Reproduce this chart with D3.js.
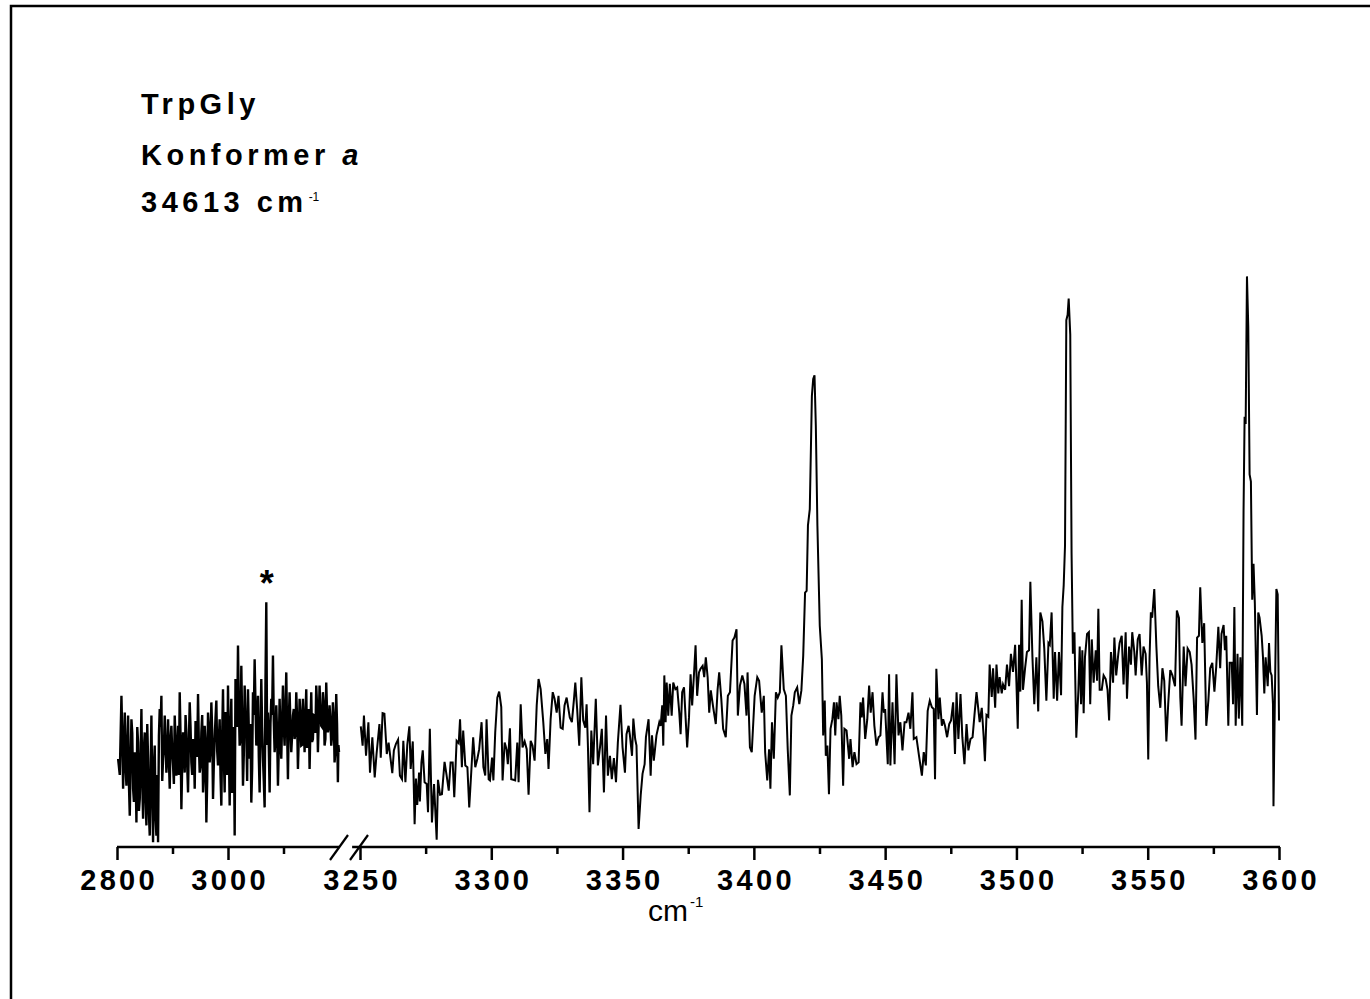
<!DOCTYPE html>
<html><head><meta charset="utf-8">
<script src="https://cdn.jsdelivr.net/npm/d3@7"></script>
<style>html,body{margin:0;padding:0;background:#fff;} svg{display:block;}</style>
</head><body>
<svg id="chart" width="1370" height="999"></svg>
<script>
// ---------- DATA ----------
// left segment, first pass of readings
const leftWave = [2802,2808,2811,2814,2817,2820,2823,2826,2829,2832,2835,2838,2841,2844,2847,2850,2853,2856,2859,2862,2865,2868,2871,2874,2877,2880,2883,2886,2889,2892,2895,2898,2901,2904,2907,2910,2913,2916,2919,2922,2925,2928,2931,2934,2937,2940,2943,2946,2949,2952,2955,2958,2961,2964,2967,2970,2973,2976,2979,2982,2985,2988,2991,2994,2997,3000,3003,3006,3009,3012,3015,3018,3021,3024,3027,3030,3033,3036,3039,3042,3045,3048,3051,3054,3057,3060,3063,3066,3069,3072,3075,3078,3081,3084,3087,3090,3093,3096,3099,3102,3105,3108,3111,3114,3117,3120,3123,3126,3129,3132,3135,3138,3141,3144,3147,3150,3153,3156,3159,3162,3165,3168,3171,3174,3177,3180,3183,3186,3189,3192,3195,3198,3200];
const leftSignal = [14.7,25.2,9.7,22.4,10.2,21.9,5.2,21.3,9.7,15.8,4.1,17.4,8.0,23.0,4.7,19.1,3.6,14.7,1.9,21.9,0.8,16.9,1.9,0.8,23.0,25.2,14.7,21.9,12.4,21.3,9.7,20.2,13.6,21.9,11.9,20.2,25.8,6.3,19.1,12.4,19.1,9.1,24.1,14.1,18.0,9.7,18.6,25.5,12.4,19.1,9.1,20.2,4.1,22.4,14.1,24.1,8.0,18.0,24.4,13.6,21.3,6.9,26.3,9.1,21.9,26.9,6.9,24.7,13.6,1.9,24.7,33.6,16.9,30.2,10.2,26.9,19.1,26.3,14.7,7.4,25.8,31.3,16.9,25.2,9.1,28.0,14.7,6.6,40.8,22.4,9.1,24.7,31.9,15.8,23.6,10.2,24.7,14.7,26.9,16.9,29.1,11.3,25.8,15.8,21.9,18.0,25.8,13.0,24.7,16.9,24.7,15.8,26.3,19.1,13.0,25.8,18.0,21.9,26.9,15.8,26.9,20.2,25.8,16.9,27.4,19.1,23.6,16.9,24.1,14.1,25.5,10.8,15.8];
// left segment, second pass of readings (points between the first pass)
const leftWave2 = [2805,2809.5,2812.5,2815.5,2818.5,2821.5,2824.5,2827.5,2830.5,2833.5,2836.5,2839.5,2842.5,2845.5,2848.5,2851.5,2854.5,2857.5,2860.5,2863.5,2866.5,2869.5,2872.5,2875.5,2878.5,2881.5,2884.5,2887.5,2890.5,2893.5,2896.5,2899.5,2902.5,2905.5,2908.5,2911.5,2914.5,2917.5,2920.5,2923.5,2926.5,2929.5,2932.5,2935.5,2938.5,2941.5,2944.5,2947.5,2950.5,2953.5,2956.5,2959.5,2962.5,2965.5,2968.5,2971.5,2974.5,2977.5,2980.5,2983.5,2986.5,2989.5,2992.5,2995.5,2998.5,3001.5,3004.5,3007.5,3010.5,3013.5,3016.5,3019.5,3022.5,3025.5,3028.5,3031.5,3034.5,3037.5,3040.5,3043.5,3046.5,3049.5,3052.5,3055.5,3058.5,3061.5,3064.5,3067.5,3070.5,3073.5,3076.5,3079.5,3082.5,3085.5,3088.5,3091.5,3094.5,3097.5,3100.5,3103.5,3106.5,3109.5,3112.5,3115.5,3118.5,3121.5,3124.5,3127.5,3130.5,3133.5,3136.5,3139.5,3142.5,3145.5,3148.5,3151.5,3154.5,3157.5,3160.5,3163.5,3166.5,3169.5,3172.5,3175.5,3178.5,3181.5,3184.5,3187.5,3190.5,3193.5,3196.5,3199];
const leftSignal2 = [12.0,18.5,16.0,13.5,17.0,10.5,14.0,19.0,7.5,12.5,20.0,6.0,15.0,11.0,16.5,8.0,20.5,5.5,12.0,9.5,
13.5,5.0,12.0,18.5,20.0,11.0,16.5,17.0,15.0,14.5,18.0,16.0,10.5,17.5,15.5,12.0,18.5,14.0,16.0,22.0,
13.5,17.5,20.0,12.0,16.5,21.0,15.0,17.0,13.5,22.0,12.0,17.5,11.0,20.0,16.5,19.5,14.0,21.5,16.0,18.0,
12.0,18.5,15.0,22.5,12.0,17.0,19.5,9.0,20.0,28.0,20.0,23.5,18.0,21.0,15.5,22.0,11.0,19.5,20.5,13.0,
22.0,24.0,20.0,15.0,19.5,20.0,11.0,27.0,17.0,16.5,20.5,22.0,21.0,18.0,19.0,16.5,18.5,21.0,20.0,23.0,
19.5,21.0,20.5,18.5,23.0,19.0,21.5,18.0,22.5,17.0,20.5,21.5,16.5,23.0,20.0,17.5,22.0,19.0,23.5,21.0,
22.5,20.0,24.0,18.0,22.5,20.0,21.0,18.5,22.0,16.0,20.5,17.0];

const rightWave = [
3250.3,3251.0,3251.5,3252.3,3253.2,3253.8,3254.7,3255.6,3256.3,3257.4,
3257.9,3258.6,3259.3,3260.2,3260.9,3261.5,3262.3,3262.9,3263.7,3264.5,
3265.2,3266.0,3266.5,3267.3,3268.0,3268.8,3269.3,3270.1,3270.8,3271.3,
3271.8,3272.5,3272.8,3273.4,3273.9,3274.6,3275.4,3275.9,3276.6,3277.4,
3278.2,3279.2,3279.7,3280.5,3281.2,3282.2,3283.0,3283.8,3284.5,3285.3,
3285.9,3286.8,3287.6,3288.1,3288.8,3289.3,3290.1,3290.9,3291.6,3292.4,
3293.1,3293.9,3294.7,3295.4,3296.3,3297.0,3297.7,3298.2,3299.0,3299.5,
3300.3,3300.8,3301.5,3302.3,3303.0,3303.8,3304.3,3305.1,3305.8,3306.3,
3307.1,3307.6,3308.4,3309.1,3309.9,3310.4,3311.2,3311.9,3312.7,3313.5,
3314.2,3315.0,3315.7,3316.5,3317.3,3318.0,3318.8,3319.8,3320.6,3321.3,
3321.8,3322.6,3323.4,3324.1,3324.9,3325.6,3326.4,3327.2,3327.9,3328.7,
3329.9,3330.7,3331.5,3332.0,3332.7,3333.5,3334.3,3335.0,3335.8,3336.3,
3336.8,3337.4,3338.1,3338.8,3339.8,3340.6,3341.4,3342.1,3342.9,3343.7,
3344.4,3345.2,3345.9,3346.7,3347.5,3348.2,3349.2,3350.0,3350.9,3351.5,
3352.3,3352.8,3353.6,3354.1,3354.8,3355.3,3356.1,3356.9,3357.6,3358.4,
3358.9,3359.9,3360.7,3361.2,3361.9,3362.9,3364.0,
3364.5,3365.1,3365.5,3365.9,3366.4,3366.8,3367.4,3368.0,3368.7,3369.3,
3370.1,3370.8,3371.6,3372.1,3372.7,3373.4,3374.0,3374.6,3375.3,3375.9,
3376.5,3377.2,3377.8,3378.4,3379.1,3379.7,3380.5,3381.1,3381.7,3382.4,
3383.0,3383.6,3384.5,3385.5,3386.2,3386.8,3387.6,3388.3,3389.3,3390.1,
3390.9,3391.9,3392.6,3393.4,3393.9,3394.7,3395.6,3396.4,3397.2,3397.6,
3398.5,3399.2,3400.3,3401.3,3402.0,3403.0,3403.8,3404.3,3405.1,3405.8,
3406.3,3406.9,3407.6,3408.4,3409.1,3409.9,3410.5,3411.4,3412.2,3412.9,
3413.7,3414.3,3415.0,3415.6,3416.5,3417.3,3418.1,3418.8,3419.5,3420.1,
3420.6,3421.3,3422.1,3422.6,3423.1,3423.6,3424.2,3425.1,3425.9,3426.4,
3427.0,3427.4,3428.0,3428.6,3429.2,3429.9,3430.5,3431.0,3431.5,3432.2,
3432.7,3433.3,3434.0,3434.5,3435.3,3436.3,3436.8,3437.6,3438.3,3439.1,
3439.9,3440.6,3441.1,3441.6,3442.4,3443.2,3443.9,3444.5,3445.2,3445.9,
3446.7,3447.5,3448.2,3449.0,3449.5,3450.0,3451.0,3451.5,3452.0,3452.8,
3453.6,3454.3,3455.1,3455.8,3456.6,3457.4,3458.1,3458.9,3459.6,3460.4,
3460.9,3461.9,3462.9,3464.0,3464.7,3465.5,3466.2,3467.0,3467.8,3468.5,
3469.0,3469.5,3470.3,3470.8,3471.6,3472.1,3472.8,3473.6,3474.4,3475.1,
3475.9,3476.6,3477.2,3477.9,3478.7,3479.4,3480.2,3481.0,3481.7,3482.5,
3483.3,3484.0,3484.8,3486.0,
3486.8,3487.5,3488.0,3488.6,3489.3,3489.8,3490.6,3491.1,3491.9,3492.4,
3493.1,3493.6,3494.4,3494.9,3495.7,3496.4,3497.2,3497.9,3498.7,3499.5,
3500.0,3500.5,3501.0,3501.5,3502.0,3502.5,3503.3,3504.0,3504.8,3505.3,
3506.1,3506.8,3507.6,3508.3,3509.1,3509.9,3510.6,3511.4,3512.2,3512.7,
3513.4,3514.2,3514.7,3515.5,3516.2,3517.0,3517.5,3518.0,3518.5,3519.0,
3519.5,3519.9,3520.5,3521.0,3521.5,3522.1,3522.8,3523.6,3524.1,3524.6,
3525.1,3525.6,3526.1,3526.9,3527.6,3528.1,3528.7,3529.4,3530.2,3530.7,
3531.2,3531.7,3532.5,3533.2,3534.0,3534.7,3535.3,3536.0,3536.8,3537.3,
3538.0,3538.8,3539.3,3540.1,3540.8,3541.6,3542.1,3542.9,3543.6,3544.1,
3544.9,3545.4,3546.2,3546.9,3547.7,3548.4,3549.2,3549.7,3550.2,3550.7,
3551.2,3551.7,3552.5,3553.3,3554.0,3554.8,3555.6,3556.3,3557.1,3557.8,
3558.6,3559.4,3560.4,3561.1,3561.9,3562.4,3562.9,3563.7,3564.4,3565.2,
3566.0,3566.7,3567.5,3568.2,3568.8,3569.5,3570.0,3570.8,3571.5,3572.3,
3573.1,3573.8,3574.6,3575.4,3576.1,3576.9,3577.6,3578.1,3578.9,3579.4,
3579.9,3580.7,3581.2,3582.0,3582.5,3583.0,3583.5,3584.2,3584.7,3585.3,
3586.0,3586.5,3586.9,3587.3,3587.8,3588.3,3588.8,3589.3,3589.8,3590.3,
3590.8,3591.6,3592.1,3592.6,3593.4,3593.9,3594.4,3594.9,3595.7,3596.2,
3596.7,3597.2,3597.7,3597.9,3598.4,3599.0,3599.5,3600.0];
const rightSignal = [
20.1,16.9,21.9,15.2,20.8,12.4,18.3,11.6,15.5,20.5,
14.9,22.3,22.2,15.5,17.4,15.2,12.3,16.1,17.2,17.9,
11.9,11.3,17.7,10.8,17.0,20.1,13.0,17.6,3.8,11.4,
7.0,12.4,7.6,14.1,16.1,10.8,10.5,5.8,19.7,4.1,
10.5,1.2,11.2,8.7,8.8,14.2,11.9,9.4,14.1,14.1,
8.3,17.7,17.3,21.3,13.3,19.4,13.6,13.3,6.6,12.7,
18.3,13.3,14.7,16.3,20.8,13.3,11.9,21.3,11.3,11.1,
14.9,11.1,19.1,24.9,25.9,23.3,11.1,17.4,16.3,13.8,
19.8,11.3,11.2,11.1,17.4,10.8,23.8,16.6,17.6,16.3,
8.7,17.7,16.9,14.4,23.6,28.0,26.3,20.8,15.5,18.0,
13.0,21.3,25.8,24.7,22.4,25.2,19.9,19.7,23.6,24.9,
21.6,20.8,24.7,27.4,23.0,16.9,28.3,21.1,19.9,23.8,
16.9,5.8,19.4,13.8,24.7,13.6,16.6,19.7,9.1,21.9,
11.9,15.2,11.3,14.8,10.8,17.4,23.7,16.6,12.4,18.8,
20.2,18.6,15.2,21.4,18.0,16.9,3.0,8.6,12.2,13.8,
18.3,21.3,11.9,18.6,14.4,18.6,20.8,
20.2,23.6,16.9,28.6,20.8,27.4,21.9,27.2,21.9,27.4,
26.3,26.6,22.4,18.8,25.8,26.6,21.6,16.6,21.6,28.8,
23.6,28.8,33.6,25.2,29.1,29.7,30.2,28.3,31.6,28.3,
22.4,26.1,23.3,20.5,26.3,29.1,24.7,19.7,18.3,25.2,
25.8,34.4,34.9,36.3,21.9,26.9,28.6,27.2,21.9,29.1,
16.6,15.8,25.2,28.3,27.7,22.4,25.2,15.8,11.1,16.3,
9.7,20.8,14.7,25.8,24.9,25.8,33.6,26.3,25.2,16.3,
8.6,21.9,23.6,25.8,26.6,23.8,26.1,31.9,42.4,42.7,
53.6,56.3,75.2,78.0,78.6,70.2,53.6,36.9,31.3,18.6,
24.4,15.2,16.9,8.8,19.7,21.3,24.1,18.6,24.1,21.3,
25.2,21.9,10.2,19.7,19.4,14.7,18.0,13.3,15.8,13.8,
14.1,24.1,21.6,24.9,18.0,21.3,26.9,22.4,25.8,20.2,
16.9,18.3,18.6,25.8,22.4,23.0,13.8,28.8,13.6,24.1,
13.8,28.8,18.6,20.8,16.1,20.8,20.8,22.4,19.7,25.8,
18.0,18.3,15.2,11.9,15.8,13.6,22.7,24.4,23.3,23.0,
11.3,29.7,21.3,24.9,20.2,21.3,20.2,18.3,20.5,21.1,
24.1,15.5,25.8,18.0,25.5,18.3,13.8,20.5,16.1,18.0,
18.3,21.9,25.8,20.8,
23.2,18.5,14.3,22.0,21.7,30.4,25.0,29.8,23.2,30.4,
25.6,28.3,25.6,27.1,26.2,30.4,26.8,32.2,29.2,33.7,
27.4,19.7,33.7,25.9,41.2,26.2,29.8,32.5,32.8,44.2,
31.6,23.8,31.6,22.6,39.1,37.6,33.1,24.4,34.0,33.7,
39.1,24.7,32.5,24.4,32.5,25.3,40.0,43.6,50.2,87.8,
88.7,91.4,85.4,49.0,32.2,35.8,18.2,26.2,33.4,23.8,
32.8,22.3,31.6,35.5,35.8,23.8,34.6,27.4,32.8,27.7,
39.7,26.2,26.2,28.6,28.0,26.2,21.1,32.5,27.4,34.9,
28.6,32.2,34.0,35.2,27.1,35.8,24.7,33.4,30.4,35.8,
32.5,28.6,34.6,35.5,28.6,33.4,32.2,27.4,14.6,31.6,
39.1,38.2,43.0,33.4,26.8,23.2,29.8,27.7,17.6,23.8,
29.5,28.6,26.8,39.4,38.2,25.0,20.2,33.4,26.8,33.1,
32.5,30.4,24.7,17.9,34.9,35.2,43.3,34.0,37.3,20.2,
24.4,29.8,30.7,25.9,30.1,36.7,29.8,35.5,37.0,32.8,
35.2,20.2,30.7,30.7,23.8,40.0,20.2,32.2,21.4,31.6,
20.2,56.1,71.7,70.5,95.1,86.6,62.1,60.9,41.2,47.2,
40.6,22.0,39.1,38.2,35.2,31.6,25.6,31.6,26.8,34.0,
29.2,28.6,23.8,6.8,23.8,43.0,42.1,21.1];

const leftMajorTicks = [2800, 3000];
const leftMinorTicks = [2900, 3100];
const rightMajorTicks = [3250, 3300, 3350, 3400, 3450, 3500, 3550, 3600];
const rightMinorTicks = [3275, 3325, 3375, 3425, 3475, 3525, 3575];
const titleLines = ["TrpGly", "Konformer ", "34613 cm"];
const markedPeak = 3070;   // band marked with *

// ---------- LAYOUT ----------
const svg = d3.select('#chart');
const FONT = "'Liberation Sans', Arial, Helvetica, sans-serif";
const axisY = 847;

svg.append('rect').attr('x', 11).attr('y', 6).attr('width', 1420).attr('height', 1100)
  .attr('fill', 'none').attr('stroke', '#000').attr('stroke-width', 2.5);

const xL = d3.scaleLinear().domain([2800, 3200]).range([117, 339]);
const xR = d3.scaleLinear().domain([3250, 3600]).range([360, 1279]);
const y = d3.scaleLinear().domain([0, 100]).range([axisY, 247]);

const leftData = leftWave.map((w, i) => [w, leftSignal[i]])
  .concat(leftWave2.map((w, i) => [w, leftSignal2[i]]))
  .sort((a, b) => a[0] - b[0]);
const rightData = rightWave.map((w, i) => [w, rightSignal[i]]);

svg.append('path').datum(leftData)
  .attr('d', d3.line().x(d => xL(d[0])).y(d => y(d[1])))
  .attr('fill', 'none').attr('stroke', '#000').attr('stroke-width', 2.4);
svg.append('path').datum(rightData)
  .attr('d', d3.line().x(d => xR(d[0])).y(d => y(d[1])))
  .attr('fill', 'none').attr('stroke', '#000').attr('stroke-width', 2);

function styleAxis(g) {
  g.select('.domain').remove();
  g.selectAll('.tick line').attr('stroke', '#000').attr('stroke-width', 2.5);
  g.selectAll('.tick text').attr('fill', '#000').attr('y', 43).attr('dy', 0)
    .style('font-family', FONT).style('font-size', '29px').style('font-weight', 'bold')
    .style('letter-spacing', '3.3px');
}
const gAxis = svg.append('g').attr('transform', `translate(0,${axisY})`);
gAxis.append('g').call(d3.axisBottom(xL).tickValues(leftMajorTicks).tickSize(13).tickSizeOuter(0).tickFormat(d3.format('d'))).call(styleAxis);
gAxis.append('g').call(d3.axisBottom(xL).tickValues(leftMinorTicks).tickSize(7).tickSizeOuter(0).tickFormat('')).call(styleAxis);
gAxis.append('g').call(d3.axisBottom(xR).tickValues(rightMajorTicks).tickSize(13).tickSizeOuter(0).tickFormat(d3.format('d'))).call(styleAxis);
gAxis.append('g').call(d3.axisBottom(xR).tickValues(rightMinorTicks).tickSize(7).tickSizeOuter(0).tickFormat('')).call(styleAxis);
gAxis.selectAll('.tick text').attr('dx', 1.6);

// axis lines with break
gAxis.append('line').attr('x1', xL(2800)).attr('x2', xL(3200)).attr('y1', 0).attr('y2', 0)
  .attr('stroke', '#000').attr('stroke-width', 2.5);
gAxis.append('line').attr('x1', xR(3247)).attr('x2', xR(3600) + 1).attr('y1', 0).attr('y2', 0)
  .attr('stroke', '#000').attr('stroke-width', 2.5);
const bx1 = xL(3200), bx2 = xR(3250);
[[bx1 - 9, bx1 + 9], [bx2 - 10, bx2 + 8]].forEach(([a, b]) => {
  gAxis.append('line').attr('x1', a).attr('y1', 13).attr('x2', b).attr('y2', -12)
    .attr('stroke', '#000').attr('stroke-width', 2.2);
});

// axis title
const xt = svg.append('text').attr('x', 648).attr('y', 921)
  .style('font-family', FONT).style('font-size', '30px').attr('fill', '#000');
xt.append('tspan').text('cm');
xt.append('tspan').text('-1').style('font-size', '15px').attr('dy', -14).attr('dx', 2);

// title block
const tb = svg.append('g').style('font-family', FONT).style('font-weight', 'bold')
  .style('font-size', '29px').style('letter-spacing', '4.5px').attr('fill', '#000');
tb.append('text').attr('x', 141).attr('y', 114).text(titleLines[0]);
const t2 = tb.append('text').attr('x', 141).attr('y', 165);
t2.append('tspan').text(titleLines[1]);
t2.append('tspan').text('a').style('font-style', 'italic');
const t3 = tb.append('text').attr('x', 141).attr('y', 212);
t3.append('tspan').text(titleLines[2]);
t3.append('tspan').text('-1').style('font-size', '12px').style('font-weight', 'normal')
  .style('letter-spacing', '0px').attr('dy', -11).attr('dx', 1);

// asterisk marker
svg.append('text').attr('x', xL(markedPeak)).attr('y', 596).attr('text-anchor', 'middle')
  .style('font-family', FONT).style('font-weight', 'bold').style('font-size', '36px')
  .attr('fill', '#000').text('*');
</script>
</body></html>
